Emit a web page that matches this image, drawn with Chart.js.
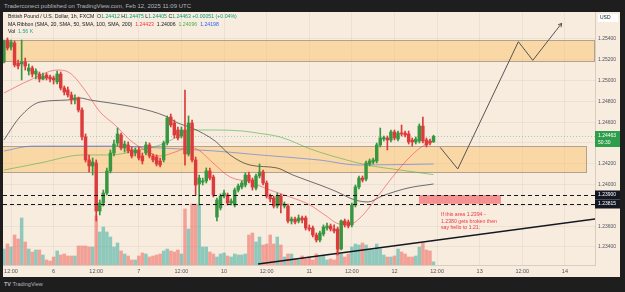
<!DOCTYPE html>
<html>
<head>
<meta charset="utf-8">
<title>GBPUSD 1h</title>
<script src="https://cdn.jsdelivr.net/npm/chart.js@4.4.1/dist/chart.umd.min.js"></script>
<style>
html,body{margin:0;padding:0;background:#1e1e1e;}
body{width:625px;height:292px;position:relative;overflow:hidden;font-family:"Liberation Sans",Arial,sans-serif;}
#topbar{position:absolute;left:4px;top:0;height:12px;line-height:12px;font-size:6px;color:#b2b5be;white-space:nowrap;}
#chartbox{position:absolute;left:3px;top:12px;width:617px;height:265px;}
#legend{position:absolute;left:8px;top:13px;font-size:5.2px;line-height:7.6px;color:#131722;white-space:nowrap;}
#footer{position:absolute;left:4px;top:277px;height:15px;line-height:15px;font-size:5.5px;color:#b2b5be;white-space:nowrap;}
.g{color:#089981}.r{color:#f23645}.k{color:#131722}.gr{color:#4caf50}.b{color:#2962ff}.t{color:#26a69a}
</style>
</head>
<body>
<div id="topbar">Traderconect published on TradingView.com, Feb 12, 2025 11:09 UTC</div>
<div id="chartbox"><canvas id="c" width="617" height="265"></canvas></div>
<div id="legend">
  <div>British Pound / U.S. Dollar, 1h, FXCM &nbsp;O<span class="g">1.24412</span> H<span class="g">1.24475</span> L<span class="g">1.24405</span> C<span class="g">1.24463</span> <span class="g">+0.00051 (+0.04%)</span></div>
  <div>MA Ribbon (SMA, 20, SMA, 50, SMA, 100, SMA, 200) &nbsp;<span class="r">1.24423</span> &nbsp;<span class="k">1.24006</span> &nbsp;<span class="gr">1.24096</span> &nbsp;<span class="b">1.24198</span></div>
  <div>Vol &nbsp;<span class="t">1.56 K</span></div>
</div>
<div id="footer"><b>TV</b> TradingView</div>
<script>
// GBPUSD 1h bars, Feb 5 10:00 -> Feb 12 11:00 (bar index, weekend skipped like TradingView)
const open = [1.25179,1.25390,1.25323,1.25362,1.25169,1.25160,1.25179,1.25092,1.25121,1.25063,
  1.25063,1.25015,1.25054,1.25035,1.25025,1.24987,1.25063,1.24929,1.24910,1.24862,
  1.24813,1.24833,1.24717,1.24458,1.24237,1.24179,1.24208,1.23746,1.23823,1.23919,
  1.24131,1.24304,1.24400,1.24477,1.24352,1.24381,1.24333,1.24304,1.24333,1.24275,
  1.24304,1.24381,1.24275,1.24265,1.24227,1.24237,1.24400,1.24650,1.24592,1.24525,
  1.24467,1.24525,1.24294,1.24592,1.24237,1.24006,1.24025,1.24035,1.24131,1.24073,
  1.23688,1.23775,1.23890,1.23900,1.23823,1.23804,1.23948,1.23977,1.23996,1.24092,
  1.24044,1.23967,1.24083,1.24121,1.24015,1.23890,1.23871,1.23794,1.23890,1.23794,
  1.23794,1.23650,1.23669,1.23650,1.23679,1.23679,1.23583,1.23583,1.23515,1.23467,
  1.23525,1.23583,1.23602,1.23573,1.23573,1.23381,1.23650,1.23640,1.23612,1.23804,
  1.23977,1.24063,1.24054,1.24198,1.24217,1.24227,1.24381,1.24438,1.24448,1.24429,
  1.24506,1.24438,1.24496,1.24496,1.24487,1.24429,1.24410,1.24419,1.24563,1.24429,
  1.24419,1.24412];
const high = [1.25390,1.25410,1.25390,1.25381,1.25198,1.25390,1.25217,1.25160,1.25140,1.25112,
  1.25083,1.25073,1.25073,1.25054,1.25044,1.25092,1.25083,1.24948,1.24938,1.24890,
  1.24862,1.24842,1.24737,1.24487,1.24285,1.24256,1.24237,1.23852,1.23948,1.24160,
  1.24333,1.24429,1.24544,1.24496,1.24419,1.24410,1.24362,1.24352,1.24362,1.24304,
  1.24410,1.24400,1.24294,1.24285,1.24256,1.24419,1.24660,1.24679,1.24621,1.24554,
  1.24554,1.24910,1.24660,1.24621,1.24265,1.24092,1.24063,1.24160,1.24160,1.24092,
  1.23871,1.23910,1.23948,1.23919,1.23862,1.23967,1.24006,1.24035,1.24112,1.24121,
  1.24063,1.24102,1.24198,1.24140,1.24035,1.23910,1.23890,1.23919,1.23910,1.23833,
  1.23813,1.23688,1.23688,1.23708,1.23698,1.23698,1.23612,1.23602,1.23535,1.23554,
  1.23612,1.23631,1.23621,1.23612,1.23592,1.23660,1.23669,1.23660,1.23823,1.23996,
  1.24083,1.24083,1.24227,1.24246,1.24256,1.24400,1.24544,1.24467,1.24467,1.24525,
  1.24525,1.24515,1.24573,1.24515,1.24515,1.24448,1.24458,1.24583,1.24650,1.24448,
  1.24438,1.24475];
const low = [1.25169,1.25294,1.25294,1.25131,1.25112,1.25006,1.25102,1.25054,1.25035,1.25015,
  1.24987,1.25006,1.25006,1.24987,1.24967,1.24967,1.24910,1.24862,1.24842,1.24775,
  1.24775,1.24698,1.24429,1.24217,1.24121,1.24092,1.23650,1.23708,1.23794,1.23900,
  1.24112,1.24275,1.24371,1.24333,1.24313,1.24304,1.24256,1.24275,1.24237,1.24198,
  1.24285,1.24256,1.24217,1.24179,1.24169,1.24217,1.24381,1.24554,1.24448,1.24429,
  1.24448,1.24188,1.24275,1.24217,1.23900,1.23804,1.23996,1.24015,1.24044,1.23881,
  1.23650,1.23756,1.23871,1.23804,1.23804,1.23785,1.23929,1.23958,1.23977,1.24015,
  1.23948,1.23948,1.24063,1.23996,1.23871,1.23833,1.23775,1.23775,1.23727,1.23775,
  1.23631,1.23621,1.23621,1.23631,1.23631,1.23563,1.23554,1.23496,1.23448,1.23448,
  1.23506,1.23563,1.23554,1.23535,1.23323,1.23371,1.23592,1.23583,1.23592,1.23785,
  1.23958,1.24025,1.24035,1.24179,1.24198,1.24208,1.24362,1.24419,1.24333,1.24410,
  1.24429,1.24419,1.24467,1.24458,1.24390,1.24371,1.24390,1.24400,1.24400,1.24362,
  1.24381,1.24405];
const close = [1.25381,1.25313,1.25371,1.25150,1.25140,1.25179,1.25140,1.25121,1.25063,1.25092,
  1.25015,1.25044,1.25025,1.25015,1.25006,1.25063,1.24929,1.24890,1.24862,1.24813,
  1.24833,1.24717,1.24458,1.24237,1.24179,1.24217,1.23746,1.23823,1.23919,1.24131,
  1.24304,1.24390,1.24487,1.24352,1.24390,1.24323,1.24275,1.24333,1.24256,1.24227,
  1.24381,1.24275,1.24237,1.24198,1.24188,1.24400,1.24640,1.24573,1.24477,1.24448,
  1.24525,1.24294,1.24592,1.24237,1.23996,1.24063,1.24035,1.24131,1.24063,1.23900,
  1.23852,1.23890,1.23919,1.23823,1.23842,1.23948,1.23987,1.24015,1.24092,1.24035,
  1.23977,1.24083,1.24121,1.24015,1.23890,1.23862,1.23794,1.23890,1.23804,1.23813,
  1.23650,1.23669,1.23640,1.23679,1.23660,1.23583,1.23573,1.23515,1.23467,1.23535,
  1.23592,1.23602,1.23573,1.23554,1.23381,1.23650,1.23612,1.23602,1.23804,1.23977,
  1.24063,1.24044,1.24208,1.24227,1.24237,1.24381,1.24448,1.24452,1.24429,1.24506,
  1.24448,1.24496,1.24487,1.24477,1.24410,1.24410,1.24438,1.24563,1.24419,1.24381,
  1.24400,1.24463];
// volume in thousands
const volume = [8,10.5,9,15,13,23.5,11.5,8,6.5,7.5,
  7.5,5,2.5,2,4,7,5,5.5,4.5,4.5,
  4.5,9.5,9.5,9.5,9,9,24.5,16.5,19,16.5,
  14,9,11,7,5.5,4.5,2.5,2.5,4.5,6,
  5.5,4,4.5,5,5.5,7,8,7,6.5,7.5,
  5.5,28,18,30.5,30.5,30,9,9,6.5,5.5,
  4,5.5,6,4.5,4,5.5,5,5,5.5,15,
  16,11.5,14,10,10.5,15,10.5,14,10,4,
  5.5,5.5,3,2.5,4.5,3,4,2.5,5.5,4,
  4.5,2.5,3,2.5,8,5.5,4,5.5,9,10.5,
  10,11,10,8,7.5,10.5,8,5,4,4,
  4.5,8,6.5,5.5,4,4,4.5,9,11,7.5,
  7,1.56];

// MA ribbon at a few bar positions
const ma20X = [0,7.4,15.2,18.6,22.8,27.1,31.3,35.5,39.7,44,48.2,52.4,55.2,58.9,63.7,69.3,74.9,80.6,86.2,90.4,94.7,97.5,100.3,104.5,108.8,113,117.2,121];
const ma20Y = [1.24881,1.25006,1.25102,1.25073,1.24910,1.24698,1.24573,1.24429,1.24333,1.24275,1.24313,1.24362,1.24323,1.24208,1.24073,1.24025,1.23948,1.23881,1.23804,1.23708,1.23621,1.23621,1.23679,1.23852,1.24044,1.24217,1.24352,1.24423];
const ma50X = [0,4.5,10.2,17.8,21.4,24.3,29.9,37.8,45.4,49,53,59.5,63.7,69.3,76.9,81.4,89,93.3,98.9,102.6,106.5,113.8,121];
const ma50Y = [1.24429,1.24650,1.24794,1.24813,1.24833,1.24813,1.24785,1.24737,1.24660,1.24592,1.24544,1.24419,1.24285,1.24188,1.24160,1.24092,1.23996,1.23938,1.23852,1.23833,1.23890,1.23967,1.24006];
const ma100X = [0,10.2,22.3,29.9,38.3,44,48.2,52.4,59.5,67.3,71.3,77.8,87.1,96.6,102.3,111.6,121];
const ma100Y = [1.24140,1.24208,1.24285,1.24285,1.24333,1.24381,1.24448,1.24525,1.24525,1.24515,1.24496,1.24458,1.24333,1.24236,1.24188,1.24140,1.24096];
const ma200X = [0,8.2,22.3,29.9,44,59.5,72.1,89,99.7,121];
const ma200Y = [1.24323,1.24371,1.24371,1.24371,1.24352,1.24323,1.24285,1.24236,1.24188,1.24198];

// drawings
const pathX = [122.85,127.83,144.9,148.96,157.1];
const pathY = [1.24359,1.24150,1.25374,1.25195,1.25551];
const trendX = [71.6,166.5];
const trendY = [1.23237,1.23669];
const zoneTop = [1.2519,1.2539];
const zoneMid = [1.24118,1.24368];
const zoneMidEnd = 164;
const breakLevels = [1.239,1.23815];
const breakBox = [116.9,140];
const noteLines = ['If this area 1.2394 -','1.2380 gets broken then','say hello to 1.21.'];
const noteAt = [123.1,1.23708];
const lastPrice = 1.24463;
const countdown = '50:30';

const xTickPos = [2,14,26,38,50,62,74,86,98,110,122,134,146,158];
const xTickLabels = ['12:00','6','12:00','7','12:00','10','12:00','11','12:00','12','12:00','13','12:00','14'];
const yTicks = [1.234,1.236,1.238,1.240,1.242,1.244,1.246,1.248,1.250,1.252,1.254];
const yHidden = [1.238,1.244];

const UP = '#37963f', DOWN = '#dd3b3b';
const idx = open.map((_, i) => i);
const isUp = idx.map(i => close[i] >= open[i]);
const pts = (xs, ys) => xs.map((v, k) => ({x: v, y: ys[k]}));

Chart.defaults.font.family = '"Liberation Sans", Arial, sans-serif';

const drawings = {
  id: 'drawings',
  beforeDraw(chart) {
    const ctx = chart.ctx;
    ctx.save();
    ctx.fillStyle = '#f7ecdd';
    ctx.fillRect(0, 0, chart.width, chart.height);
    ctx.restore();
  },
  beforeDatasetsDraw(chart) {
    const {ctx, chartArea: a} = chart;
    const x = chart.scales.x, y = chart.scales.y;
    ctx.save();
    ctx.beginPath();
    ctx.rect(a.left, a.top, a.right - a.left, a.bottom - a.top);
    ctx.clip();
    const box = (x0, x1, p0, p1) => {
      const l = Math.round(x.getPixelForValue(x0)) + 0.5, r = Math.round(x.getPixelForValue(x1)) + 0.5;
      const t = Math.round(y.getPixelForValue(p1)) + 0.5, b = Math.round(y.getPixelForValue(p0)) + 0.5;
      ctx.fillStyle = 'rgba(255,183,77,0.38)';
      ctx.fillRect(l, t, r - l, b - t);
      ctx.strokeStyle = 'rgba(120,108,96,0.55)';
      ctx.lineWidth = 1;
      ctx.strokeRect(l, t, r - l, b - t);
    };
    box(-3, 166.2, zoneTop[0], zoneTop[1]);
    box(-3, zoneMidEnd, zoneMid[0], zoneMid[1]);
    // last price line
    const ly = Math.round(y.getPixelForValue(lastPrice)) + 0.5;
    ctx.strokeStyle = 'rgba(8,153,129,0.35)';
    ctx.setLineDash([1, 2]);
    ctx.beginPath(); ctx.moveTo(a.left, ly); ctx.lineTo(a.right, ly); ctx.stroke();
    ctx.restore();
  },
  afterDatasetsDraw(chart) {
    const {ctx, chartArea: a} = chart;
    const x = chart.scales.x, y = chart.scales.y;
    ctx.save();
    ctx.beginPath();
    ctx.rect(a.left, a.top, a.right - a.left, a.bottom - a.top);
    ctx.clip();
    // break zone
    const bl = x.getPixelForValue(breakBox[0]), br = x.getPixelForValue(breakBox[1]);
    const bt = y.getPixelForValue(breakLevels[0]), bb = y.getPixelForValue(breakLevels[1]);
    ctx.fillStyle = 'rgba(242,54,69,0.5)';
    ctx.fillRect(bl, bt, br - bl, bb - bt);
    // dashed levels
    ctx.strokeStyle = '#131722';
    ctx.lineWidth = 1.2;
    ctx.setLineDash([4, 3]);
    breakLevels.forEach(p => {
      const yy = Math.round(y.getPixelForValue(p)) + 0.5;
      ctx.beginPath(); ctx.moveTo(a.left, yy); ctx.lineTo(a.right, yy); ctx.stroke();
    });
    ctx.setLineDash([]);
    // arrow head on the projected path
    const n = pathX.length - 1;
    const ex = x.getPixelForValue(pathX[n]), ey = y.getPixelForValue(pathY[n]);
    const sx = x.getPixelForValue(pathX[n - 1]), sy = y.getPixelForValue(pathY[n - 1]);
    const ang = Math.atan2(ey - sy, ex - sx);
    ctx.strokeStyle = '#555';
    ctx.lineWidth = 1;
    ctx.beginPath();
    ctx.moveTo(ex - 4 * Math.cos(ang - 0.5), ey - 4 * Math.sin(ang - 0.5));
    ctx.lineTo(ex, ey);
    ctx.lineTo(ex - 4 * Math.cos(ang + 0.5), ey - 4 * Math.sin(ang + 0.5));
    ctx.stroke();
    // note
    ctx.fillStyle = '#f23645';
    ctx.font = '5.2px "Liberation Sans"';
    ctx.textBaseline = 'middle';
    const nx = x.getPixelForValue(noteAt[0]), ny = y.getPixelForValue(noteAt[1]);
    noteLines.forEach((t, k) => ctx.fillText(t, nx, ny + k * 6.5));
    ctx.restore();
  },
  afterDraw(chart) {
    const {ctx, chartArea: a} = chart;
    const y = chart.scales.y;
    const w = chart.width - a.right;
    ctx.save();
    ctx.font = '5px "Liberation Sans"';
    ctx.textBaseline = 'middle';
    const tag = (p, text, bg) => {
      const yy = Math.round(y.getPixelForValue(p));
      ctx.fillStyle = bg;
      ctx.fillRect(a.right, yy - 4.5, w, 9);
      ctx.fillStyle = '#fff';
      ctx.fillText(text, a.right + 3, yy);
    };
    tag(breakLevels[0], breakLevels[0].toFixed(5), '#131722');
    tag(breakLevels[1], breakLevels[1].toFixed(5), '#131722');
    const ly = Math.round(y.getPixelForValue(lastPrice));
    ctx.fillStyle = '#2e9e4a';
    ctx.fillRect(a.right, ly - 5, w, 16);
    ctx.fillStyle = '#fff';
    ctx.fillText(lastPrice.toFixed(5), a.right + 3, ly);
    ctx.fillText(countdown, a.right + 3, ly + 6.5);
    // currency box
    ctx.fillStyle = '#fff';
    ctx.fillRect(a.right + 3, 2, 20, 8);
    ctx.fillStyle = '#131722';
    ctx.fillText('USD', a.right + 5, 6);
    ctx.restore();
  }
};

new Chart(document.getElementById('c'), {
  type: 'bar',
  data: {
    datasets: [
      {
        label: 'Body', order: 1, grouped: false, barThickness: 2.8, minBarLength: 1,
        data: idx.map(i => ({x: i, y: [open[i], close[i]]})),
        backgroundColor: idx.map(i => isUp[i] ? UP : DOWN)
      },
      {
        label: 'Wick', order: 2, grouped: false, barThickness: 1,
        data: idx.map(i => ({x: i, y: [low[i], high[i]]})),
        backgroundColor: idx.map(i => isUp[i] ? UP : DOWN)
      },
      {
        type: 'line', label: 'Path', order: 3, data: pts(pathX, pathY),
        borderColor: '#555', borderWidth: 1, pointRadius: 0
      },
      {
        type: 'line', label: 'Trend', order: 3, data: pts(trendX, trendY),
        borderColor: '#131722', borderWidth: 1.5, pointRadius: 0
      },
      {
        type: 'line', label: 'SMA 20', order: 4, data: pts(ma20X, ma20Y),
        borderColor: 'rgba(242,54,69,0.55)', borderWidth: 1, pointRadius: 0, cubicInterpolationMode: 'monotone'
      },
      {
        type: 'line', label: 'SMA 50', order: 4, data: pts(ma50X, ma50Y),
        borderColor: 'rgba(19,23,34,0.6)', borderWidth: 1, pointRadius: 0, cubicInterpolationMode: 'monotone'
      },
      {
        type: 'line', label: 'SMA 100', order: 4, data: pts(ma100X, ma100Y),
        borderColor: 'rgba(76,175,80,0.6)', borderWidth: 1, pointRadius: 0, cubicInterpolationMode: 'monotone'
      },
      {
        type: 'line', label: 'SMA 200', order: 4, data: pts(ma200X, ma200Y),
        borderColor: 'rgba(41,98,255,0.5)', borderWidth: 1, pointRadius: 0, cubicInterpolationMode: 'monotone'
      },
      {
        label: 'Vol', order: 6, grouped: false, barThickness: 2.8, yAxisID: 'yv',
        data: idx.map(i => ({x: i, y: volume[i]})),
        backgroundColor: idx.map(i => isUp[i] ? 'rgba(38,166,154,0.5)' : 'rgba(239,83,80,0.5)')
      }
    ]
  },
  options: {
    responsive: false,
    animation: false,
    events: [],
    devicePixelRatio: 1,
    layout: {padding: 0},
    plugins: {legend: {display: false}, tooltip: {enabled: false}},
    scales: {
      x: {
        type: 'linear', min: -0.2535, max: 166.48, offset: false,
        grid: {color: 'rgba(0,0,0,0.045)', drawTicks: false, offset: false},
        border: {display: true, color: '#d8cdbf'},
        afterBuildTicks: s => { s.ticks = xTickPos.map(v => ({value: v})); },
        afterFit: s => { s.height = 12; s.paddingLeft = 0; s.paddingRight = 0; },
        ticks: {
          autoSkip: false, maxRotation: 0, padding: 3, color: '#50535e', font: {size: 5.5},
          callback: (v, i) => xTickLabels[i]
        }
      },
      y: {
        type: 'linear', position: 'right', min: 1.232269, max: 1.256596,
        grid: {color: 'rgba(0,0,0,0.045)', drawTicks: false},
        border: {display: true, color: '#d8cdbf'},
        afterBuildTicks: s => { s.ticks = yTicks.map(v => ({value: v})); },
        afterFit: s => { s.width = 25; s.paddingTop = 0; s.paddingBottom = 0; },
        ticks: {
          padding: 3, color: '#50535e', font: {size: 5},
          callback: v => yHidden.some(h => Math.abs(h - v) < 1e-7) ? '' : v.toFixed(5)
        }
      },
      yv: {type: 'linear', display: false, min: 0, max: 126.5}
    }
  },
  plugins: [drawings]
});
</script>
</body>
</html>
